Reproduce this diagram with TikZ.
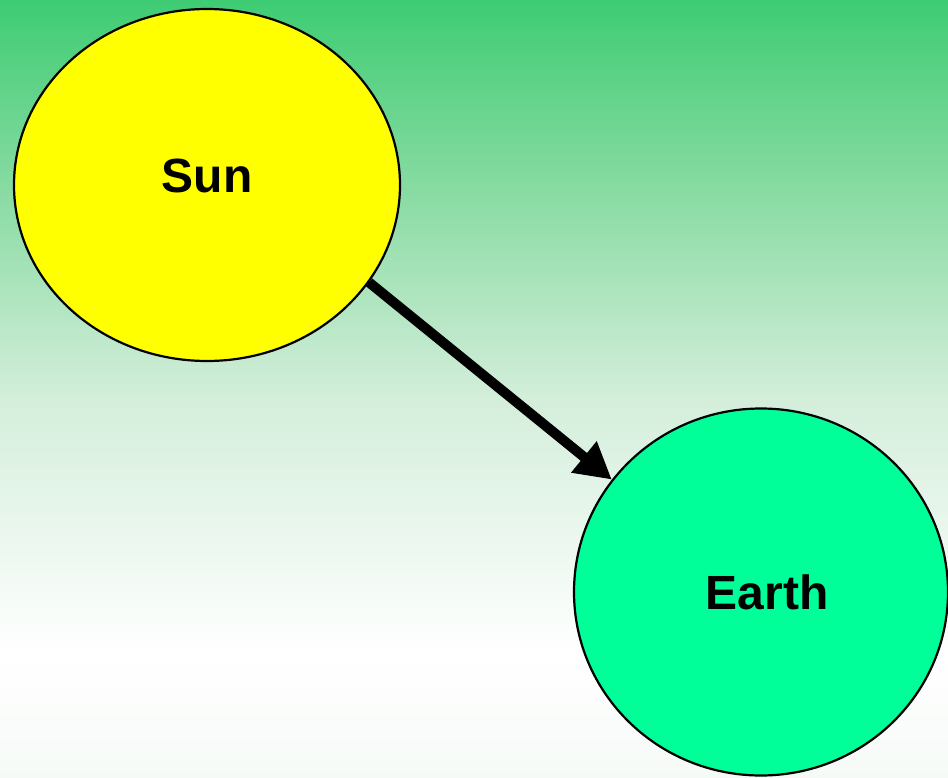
\documentclass[tikz,border=0pt]{standalone}
\usepackage{fontspec}
\setmainfont{Liberation Sans}
\usetikzlibrary{shapes.geometric,arrows.meta}
\definecolor{bgtop}{RGB}{62,204,115}
\definecolor{bgupper}{RGB}{140,220,165}
\definecolor{bgmid}{RGB}{212,238,219}
\definecolor{bgbot}{RGB}{246,250,247}
\definecolor{sunfill}{RGB}{255,255,0}
\definecolor{earthfill}{RGB}{0,255,153}
\pgfdeclareverticalshading{bgshade}{100bp}{color(0bp)=(bgbot); color(25bp)=(bgbot); color(33bp)=(white); color(49.3bp)=(bgmid); color(62.1bp)=(bgupper); color(75bp)=(bgtop); color(100bp)=(bgtop)}
\tikzset{
  body/.style={ellipse, draw=black, line width=2.2pt, inner sep=0pt,
    font=\fontsize{48}{48}\selectfont\bfseries},
  link/.style={line width=10pt, -{Triangle[length=36pt,width=38pt]}}
}
\begin{document}
\begin{tikzpicture}[x=1pt,y=-1pt]
  \useasboundingbox (0,0) rectangle (948,778);
  \shade[shading=bgshade] (0,0) rectangle (948,778);
  \node[body, fill=sunfill, minimum width=386pt, minimum height=352pt] (sun) at (207,185)
    {\raisebox{9pt}[\height][\depth]{Sun}};
  \node[body, fill=earthfill, minimum width=374pt, minimum height=367pt] (earth) at (761,592)
    {\hspace*{12pt}Earth};
  \draw[link] (sun.329) -- (earth.143);
\end{tikzpicture}
\end{document}
